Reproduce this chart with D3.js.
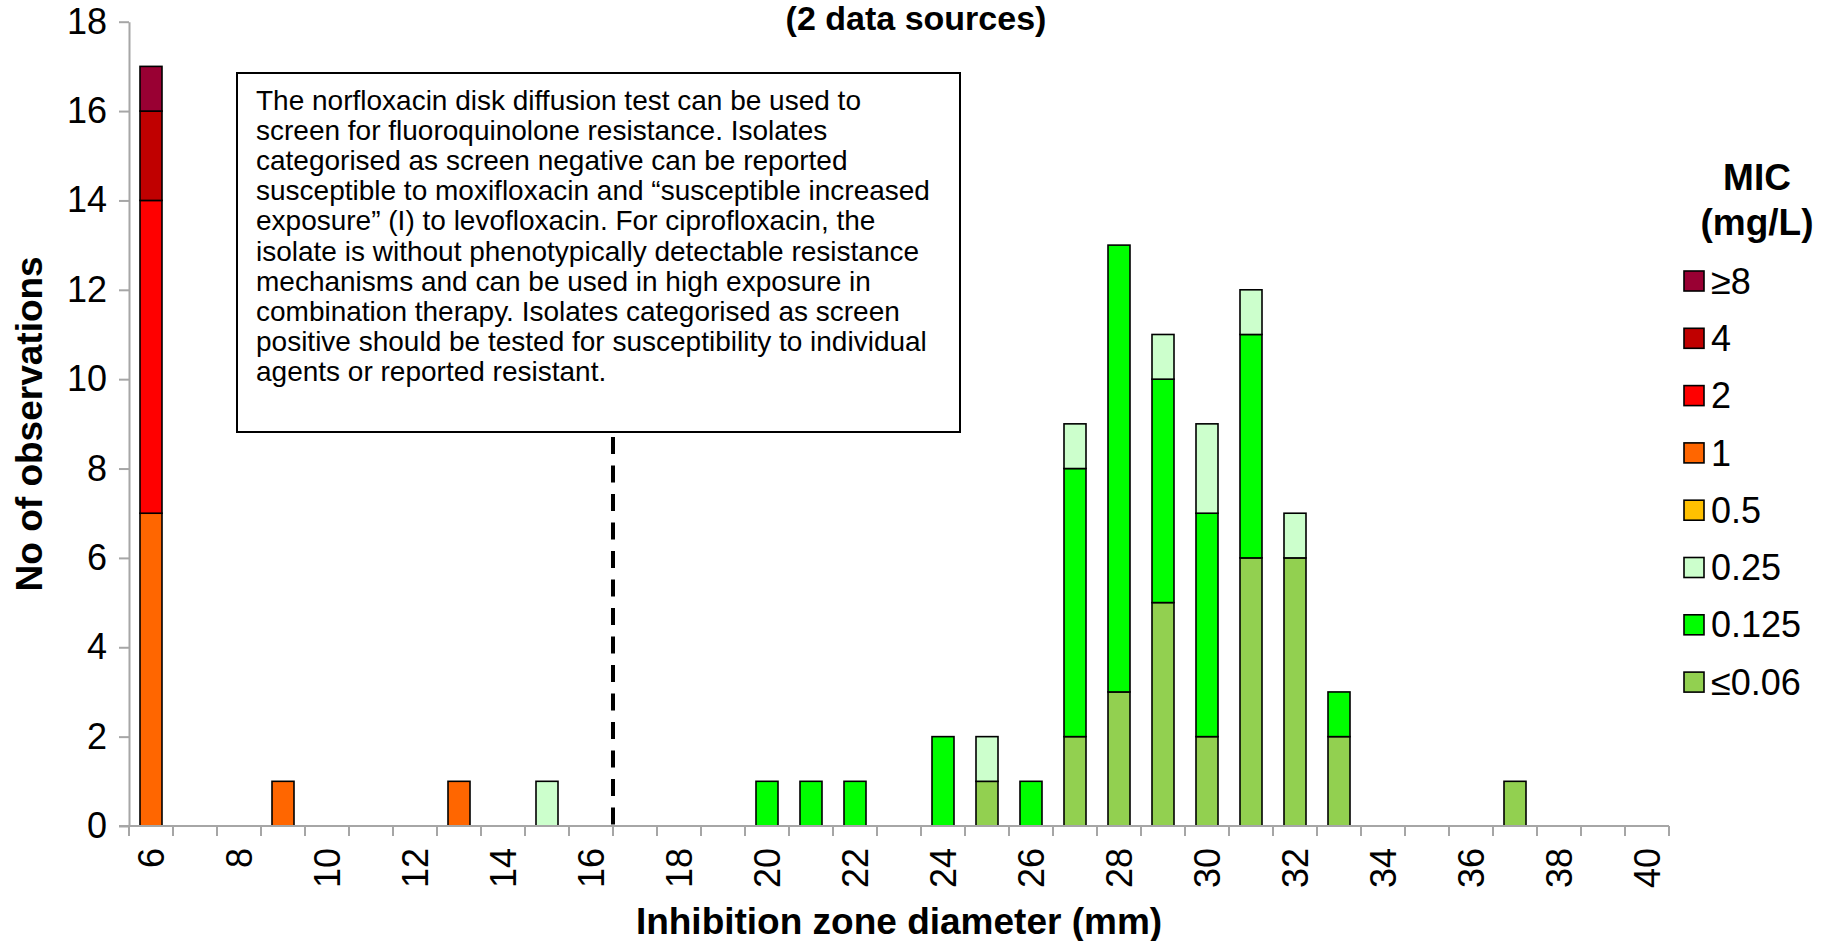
<!DOCTYPE html>
<html>
<head>
<meta charset="utf-8">
<script src="https://cdn.jsdelivr.net/npm/d3@7"></script>
<style>
  html, body { margin: 0; padding: 0; background: #fff; }
  svg { display: block; font-family: "Liberation Sans", Arial, Helvetica, sans-serif; }
</style>
</head>
<body>
<svg id="chart" width="1845" height="941"></svg>
<script>
// ---- Data ----
const zones = ["6","7","8","9","10","11","12","13","14","15","16","17","18","19","20","21","22","23","24","25","26","27","28","29","30","31","32","33","34","35","36","37","38","39","40"];
const tickLabels = ["6","8","10","12","14","16","18","20","22","24","26","28","30","32","34","36","38","40"];
const yTicks = [0,2,4,6,8,10,12,14,16,18];

const micLabels = ["≤0.06","0.125","0.25","0.5","1","2","4","≥8"];
const micColors = ["#92d050","#00ff00","#ccffcc","#ffc000","#ff6600","#ff0000","#c00000","#990033"];

//                6 7 8 9 10 11 12 13 14 15 16 17 18 19 20 21 22 23 24 25 26 27 28 29 30 31 32 33 34 35 36 37 38 39 40
const micLe006 = [0,0,0,0, 0, 0, 0, 0, 0, 0, 0, 0, 0, 0, 0, 0, 0, 0, 0, 1, 0, 2, 3, 5, 2, 6, 6, 2, 0, 0, 0, 1, 0, 0, 0];
const mic0125  = [0,0,0,0, 0, 0, 0, 0, 0, 0, 0, 0, 0, 0, 1, 1, 1, 0, 2, 0, 1, 6,10, 5, 5, 5, 0, 1, 0, 0, 0, 0, 0, 0, 0];
const mic025   = [0,0,0,0, 0, 0, 0, 0, 0, 1, 0, 0, 0, 0, 0, 0, 0, 0, 0, 1, 0, 1, 0, 1, 2, 1, 1, 0, 0, 0, 0, 0, 0, 0, 0];
const mic05    = [0,0,0,0, 0, 0, 0, 0, 0, 0, 0, 0, 0, 0, 0, 0, 0, 0, 0, 0, 0, 0, 0, 0, 0, 0, 0, 0, 0, 0, 0, 0, 0, 0, 0];
const mic1     = [7,0,0,1, 0, 0, 0, 1, 0, 0, 0, 0, 0, 0, 0, 0, 0, 0, 0, 0, 0, 0, 0, 0, 0, 0, 0, 0, 0, 0, 0, 0, 0, 0, 0];
const mic2     = [7,0,0,0, 0, 0, 0, 0, 0, 0, 0, 0, 0, 0, 0, 0, 0, 0, 0, 0, 0, 0, 0, 0, 0, 0, 0, 0, 0, 0, 0, 0, 0, 0, 0];
const mic4     = [2,0,0,0, 0, 0, 0, 0, 0, 0, 0, 0, 0, 0, 0, 0, 0, 0, 0, 0, 0, 0, 0, 0, 0, 0, 0, 0, 0, 0, 0, 0, 0, 0, 0];
const micGe8   = [1,0,0,0, 0, 0, 0, 0, 0, 0, 0, 0, 0, 0, 0, 0, 0, 0, 0, 0, 0, 0, 0, 0, 0, 0, 0, 0, 0, 0, 0, 0, 0, 0, 0];
const seriesValues = [micLe006, mic0125, mic025, mic05, mic1, mic2, mic4, micGe8];

const breakpoint = "16"; // screen breakpoint drawn at the right edge of this zone

const titleText = "(2 data sources)";
const xTitle = "Inhibition zone diameter (mm)";
const yTitle = "No of observations";
const legendTitle = ["MIC", "(mg/L)"];
const noteLines = [
  "The norfloxacin disk diffusion test can be used to",
  "screen for fluoroquinolone resistance. Isolates",
  "categorised as screen negative can be reported",
  "susceptible to moxifloxacin and \u201csusceptible increased",
  "exposure\u201d (I) to levofloxacin. For ciprofloxacin, the",
  "isolate is without phenotypically detectable resistance",
  "mechanisms and can be used in high exposure in",
  "combination therapy. Isolates categorised as screen",
  "positive should be tested for susceptibility to individual",
  "agents or reported resistant."
];

// ---- Layout ----
const svg = d3.select("#chart");
const plot = { left: 129, right: 1669, top: 21.7, bottom: 826 };
const axisColor = "#a6a6a6";
const box = { x: 237, y: 73, w: 723, h: 359 };

const x = d3.scaleBand().domain(zones).range([plot.left, plot.right]).paddingInner(0.5).paddingOuter(0.25);
const y = d3.scaleLinear().domain([0, 18]).range([plot.bottom, plot.top]);

const table = zones.map((z, i) => {
  const row = { zone: z };
  micLabels.forEach((m, k) => row[m] = seriesValues[k][i]);
  return row;
});
const stacked = d3.stack().keys(micLabels)(table);

// Dashed breakpoint line (from below the note box to the axis)
const bx = x(breakpoint) - x.step() * x.paddingInner() / 2 + x.step();
svg.append("line")
  .attr("x1", bx).attr("x2", bx)
  .attr("y1", box.y + box.h + 5).attr("y2", y(0))
  .attr("stroke", "#000").attr("stroke-width", 4)
  .attr("stroke-dasharray", "17,11.5");

// Bars
const gBars = svg.append("g");
stacked.forEach((layer, k) => {
  gBars.selectAll(null)
    .data(layer.filter(d => d[1] - d[0] > 0))
    .enter().append("rect")
    .attr("x", d => x(d.data.zone))
    .attr("width", x.bandwidth())
    .attr("y", d => y(d[1]))
    .attr("height", d => y(d[0]) - y(d[1]))
    .attr("fill", micColors[k])
    .attr("stroke", "#000")
    .attr("stroke-width", 1.6);
});

// Y axis
const yAxis = d3.axisLeft(y).tickValues(yTicks).tickSize(10).tickSizeOuter(0).tickPadding(12);
const gy = svg.append("g").attr("transform", `translate(${plot.left},0)`).call(yAxis);
gy.select(".domain").attr("stroke", axisColor).attr("stroke-width", 2);
gy.selectAll(".tick line").attr("stroke", axisColor).attr("stroke-width", 2);
gy.selectAll(".tick text").attr("font-size", 36).attr("fill", "#000")
  .attr("font-family", "Liberation Sans, Arial, sans-serif");

// X axis: boundary ticks
const xBoundaryScale = d3.scaleLinear().domain([0, zones.length]).range([plot.left, plot.right]);
const gx = svg.append("g");
gx.append("line")
  .attr("x1", plot.left - 10).attr("x2", plot.right)
  .attr("y1", plot.bottom).attr("y2", plot.bottom)
  .attr("stroke", axisColor).attr("stroke-width", 2);
gx.selectAll("line.tk")
  .data(d3.range(zones.length + 1))
  .enter().append("line").attr("class", "tk")
  .attr("x1", d => xBoundaryScale(d)).attr("x2", d => xBoundaryScale(d))
  .attr("y1", plot.bottom).attr("y2", plot.bottom + 10)
  .attr("stroke", axisColor).attr("stroke-width", 2);
gx.selectAll("text")
  .data(tickLabels)
  .enter().append("text")
  .attr("transform", d => `translate(${x(d) + x.bandwidth() / 2},${plot.bottom + 22}) rotate(-90)`)
  .attr("text-anchor", "end")
  .attr("dy", "0.35em")
  .attr("font-size", 36)
  .attr("fill", "#000")
  .text(d => d);

// Axis titles
svg.append("text")
  .attr("x", (plot.left + plot.right) / 2).attr("y", 934)
  .attr("text-anchor", "middle").attr("font-size", 37).attr("font-weight", "bold")
  .text(xTitle);
svg.append("text")
  .attr("transform", `translate(42,${(plot.top + plot.bottom) / 2}) rotate(-90)`)
  .attr("text-anchor", "middle").attr("font-size", 37).attr("font-weight", "bold")
  .text(yTitle);

// Chart title
svg.append("text")
  .attr("x", 916).attr("y", 30)
  .attr("text-anchor", "middle").attr("font-size", 34).attr("font-weight", "bold")
  .text(titleText);

// Note box
svg.append("rect")
  .attr("x", box.x).attr("y", box.y).attr("width", box.w).attr("height", box.h)
  .attr("fill", "#fff").attr("stroke", "#000").attr("stroke-width", 2);
svg.append("g").selectAll("text")
  .data(noteLines)
  .enter().append("text")
  .attr("x", 256)
  .attr("y", (d, i) => 110 + i * 30.1)
  .attr("font-size", 28)
  .attr("fill", "#000")
  .text(d => d);

// Legend
const lg = svg.append("g");
lg.selectAll("text.lt")
  .data(legendTitle)
  .enter().append("text").attr("class", "lt")
  .attr("x", 1757).attr("y", (d, i) => 190 + i * 45)
  .attr("text-anchor", "middle").attr("font-size", 37).attr("font-weight", "bold")
  .text(d => d);
const legendOrder = micLabels.slice().reverse();
const legendColors = micColors.slice().reverse();
const ly = d3.scalePoint().domain(legendOrder).range([281, 281 + 7 * 57.3]);
const items = lg.selectAll("g.item")
  .data(legendOrder)
  .enter().append("g").attr("class", "item")
  .attr("transform", d => `translate(1684,${ly(d)})`);
items.append("rect")
  .attr("x", 0).attr("y", -10).attr("width", 20).attr("height", 20)
  .attr("fill", (d, i) => legendColors[i])
  .attr("stroke", "#000").attr("stroke-width", 1.6);
items.append("text")
  .attr("x", 27).attr("y", 0).attr("dy", "0.35em")
  .attr("font-size", 36).attr("fill", "#000")
  .text(d => d);
</script>
</body>
</html>
